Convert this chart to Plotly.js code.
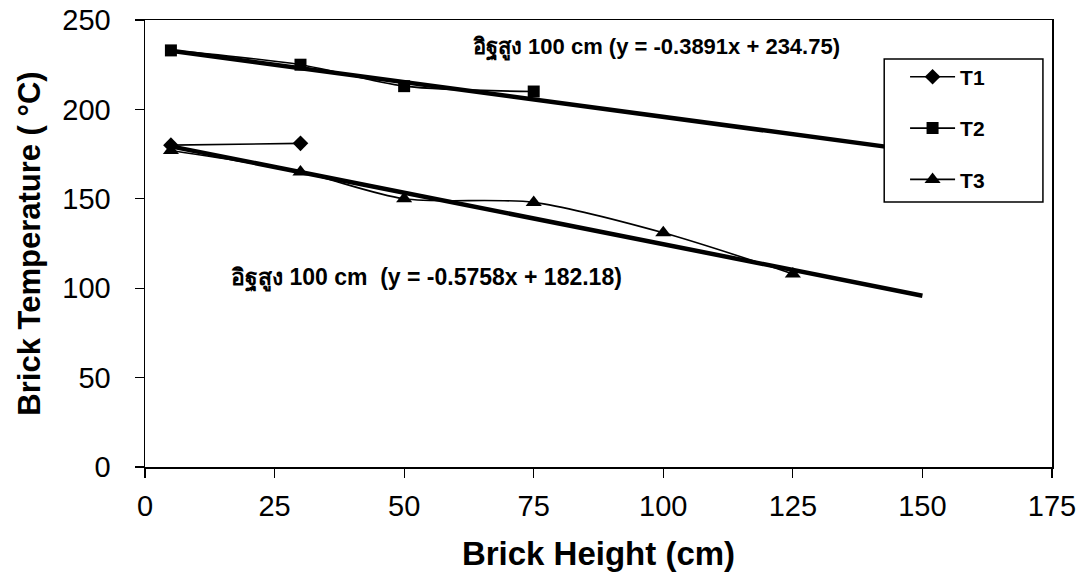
<!DOCTYPE html>
<html>
<head>
<meta charset="utf-8">
<script src="https://cdn.plot.ly/plotly-3.0.1.min.js"></script>
<style>
  html, body { margin: 0; padding: 0; background: #fff; }
  #chart { width: 1090px; height: 585px; }
</style>
</head>
<body>
<div id="chart"></div>
<script>
// Brick height (cm) at each thermocouple position
const heights = [5, 30, 50, 75, 100, 125];

// Measured brick temperatures (°C)
const t1Temps = [180, 181];
const t2Temps = [233, 225, 213, 210];
const t3Temps = [177, 165, 150, 148, 131, 108];

// Linear fits shown on the chart
const upperFit = { slope: -0.3891, intercept: 234.75 };
const lowerFit = { slope: -0.5758, intercept: 182.18 };
const fitRange = [5, 150];

const upperLabel = 'อิฐสูง 100 cm (y = -0.3891x + 234.75)';
const lowerLabel = 'อิฐสูง 100 cm  (y = -0.5758x + 182.18)';

const xTicks = [0, 25, 50, 75, 100, 125, 150, 175];
const yTicks = [0, 50, 100, 150, 200, 250];

const font = 'Arial, "Liberation Sans", "DejaVu Sans", sans-serif';

function fitLine(fit) {
  return {
    x: fitRange,
    y: fitRange.map(v => fit.slope * v + fit.intercept),
    mode: 'lines',
    line: { color: '#000', width: 4.5 },
    showlegend: false,
    hoverinfo: 'skip'
  };
}

function series(name, temps, symbol, size, group) {
  return {
    name: name,
    x: heights.slice(0, temps.length),
    y: temps,
    mode: 'lines+markers',
    line: { color: '#000', width: 1.6, shape: 'spline', smoothing: 0.8 },
    marker: { color: '#000', symbol: symbol, size: size },
    legendgroup: group
  };
}

const data = [
  fitLine(upperFit),
  fitLine(lowerFit),
  series('T1', t1Temps, 'diamond', 12, 'g1'),
  series('T2', t2Temps, 'square', 12, 'g2'),
  series('T3', t3Temps, 'triangle-up', 14, 'g3')
];

const layout = {
  width: 1090,
  height: 585,
  margin: { l: 145, r: 38, t: 20, b: 118 },
  paper_bgcolor: '#fff',
  plot_bgcolor: '#fff',
  font: { family: font, color: '#000' },
  showlegend: true,
  legend: {
    x: 0.838, y: 0.918, xanchor: 'left', yanchor: 'top',
    bgcolor: 'rgba(0,0,0,0)', borderwidth: 0,
    font: { family: font, size: 21, color: '#000', weight: 'bold' },
    tracegroupgap: 21,
    itemwidth: 45
  },
  // legend frame
  shapes: [
    {
      type: 'rect', xref: 'paper', yref: 'paper',
      x0: 0.815, x1: 0.990, y0: 0.593, y1: 0.913,
      fillcolor: '#fff', line: { color: '#000', width: 1.5 }, layer: 'above'
    }
  ],
  xaxis: {
    range: [0, 175],
    tickvals: xTicks,
    ticktext: xTicks.map(String),
    ticks: 'outside', ticklen: 9, tickwidth: 1.2, tickcolor: '#000',
    ticklabelstandoff: 4,
    showline: true, linecolor: '#000', linewidth: 1.5, mirror: true,
    showgrid: false, zeroline: false,
    tickfont: { family: font, size: 29, color: '#000' },
    title: { text: 'Brick Height (cm)', font: { family: font, size: 33, color: '#000', weight: 'bold' }, standoff: 20 }
  },
  yaxis: {
    range: [0, 250],
    tickvals: yTicks,
    ticktext: yTicks.map(String),
    ticks: 'outside', ticklen: 9, tickwidth: 1.2, tickcolor: '#000',
    ticklabelstandoff: 18,
    showline: true, linecolor: '#000', linewidth: 1.5, mirror: true,
    showgrid: false, zeroline: false,
    tickfont: { family: font, size: 29, color: '#000' },
    title: { text: 'Brick Temperature ( °C)', font: { family: font, size: 31, color: '#000', weight: 'bold' }, standoff: 12 }
  },
  annotations: [
    {
      x: 98.7, y: 234.9, xref: 'x', yref: 'y', text: upperLabel, showarrow: false,
      font: { family: font, size: 22, color: '#000', weight: 'bold' }
    },
    {
      x: 54.4, y: 105.7, xref: 'x', yref: 'y', text: lowerLabel, showarrow: false,
      font: { family: font, size: 23, color: '#000', weight: 'bold' }
    }
  ]
};

Plotly.newPlot('chart', data, layout, { displayModeBar: false, staticPlot: true });
</script>
</body>
</html>
